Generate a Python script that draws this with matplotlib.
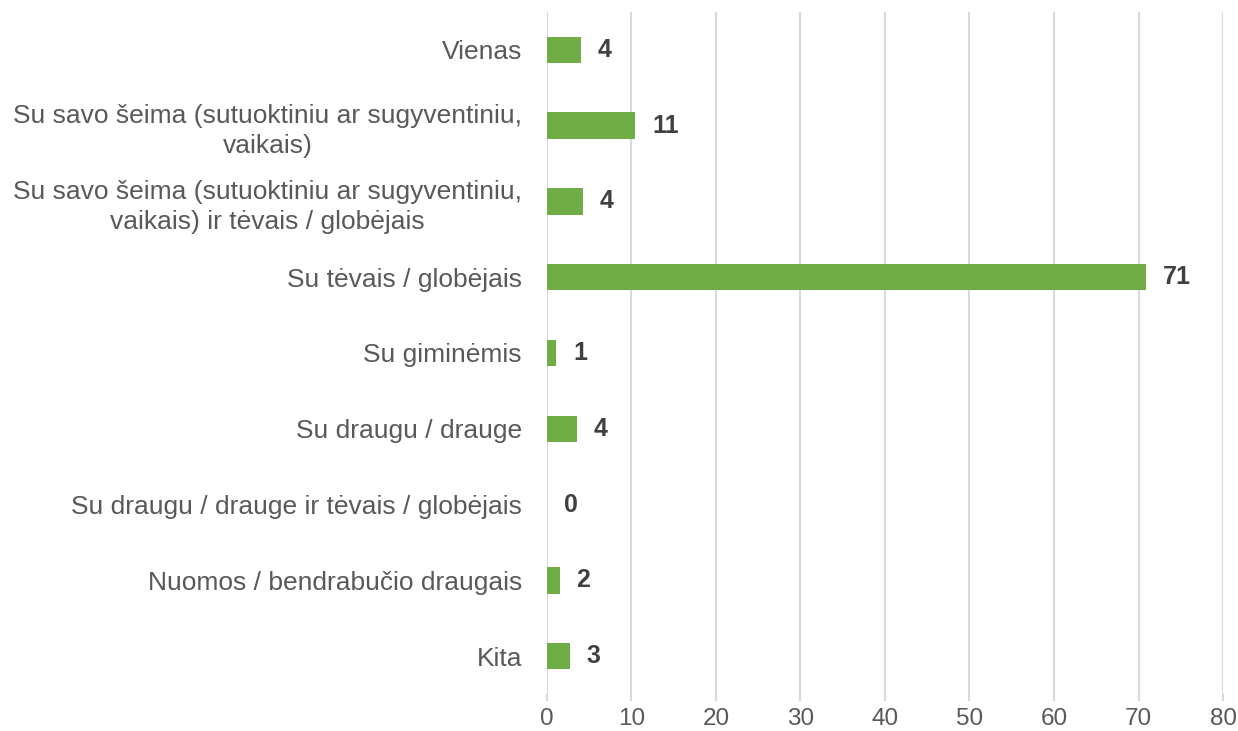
import matplotlib
matplotlib.use("Agg")
import matplotlib.pyplot as plt

categories = [
    "Vienas",
    "Su savo šeima (sutuoktiniu ar sugyventiniu,\nvaikais)",
    "Su savo šeima (sutuoktiniu ar sugyventiniu,\nvaikais) ir tėvais / globėjais",
    "Su tėvais / globėjais",
    "Su giminėmis",
    "Su draugu / drauge",
    "Su draugu / drauge ir tėvais / globėjais",
    "Nuomos / bendrabučio draugais",
    "Kita",
]
values = [4.0, 10.45, 4.3, 70.9, 1.1, 3.5, 0.0, 1.5, 2.7]
value_labels = ["4", "11", "4", "71", "1", "4", "0", "2", "3"]
x_ticks = [0, 10, 20, 30, 40, 50, 60, 70, 80]

plt.rcParams['font.family'] = ['Liberation Sans', 'DejaVu Sans']

fig = plt.figure(figsize=(12.38, 7.31), dpi=100)
ax = fig.add_axes([0.4418, 0.0506, 0.9879 - 0.4418, 0.9836 - 0.0506])

y = list(range(len(categories)))
ax.barh(y, values, height=0.35, color="#70AD47", zorder=3)
ax.set_ylim(len(categories) - 0.5, -0.5)
ax.set_xlim(0, 80)
ax.set_xticks(x_ticks)
ax.set_yticks(y)
ax.set_yticklabels(categories, fontsize=19, color="#595959", linespacing=1.3)
for lbl in ax.get_yticklabels():
    lbl.set_multialignment("center")
ax.tick_params(axis="y", length=0, pad=18)
ax.tick_params(axis="x", length=5, color="#D9D9D9", width=1.5, labelsize=17.5,
               labelcolor="#595959", pad=5)
ax.xaxis.grid(True, color="#D9D9D9", linewidth=1.5, zorder=0)
for s in ax.spines.values():
    s.set_visible(False)

for yi, v, t in zip(y, values, value_labels):
    ax.annotate(t, xy=(v, yi), xytext=(12, 0), textcoords="offset points",
                ha="left", va="center", fontsize=18, fontweight="bold",
                color="#404040")

fig.savefig("out.png", dpi=100)
